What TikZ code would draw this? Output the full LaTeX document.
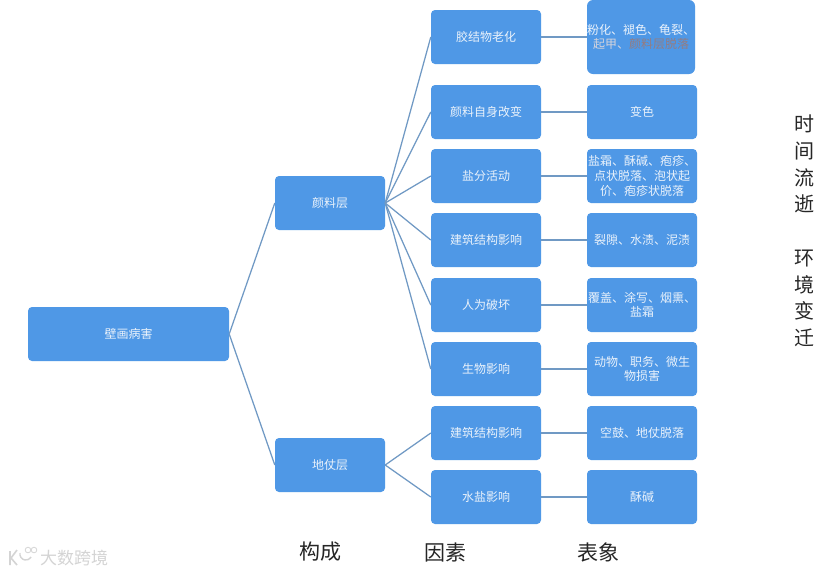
\documentclass[tikz,border=0pt]{standalone}
\usepackage{fontspec}
\setmainfont{Noto Sans CJK SC}[Scale=1]
\definecolor{boxblue}{HTML}{4F98E6}
\definecolor{linkblue}{HTML}{7099C4}
\definecolor{boxtext}{HTML}{EAF2FB}
\definecolor{faded}{HTML}{957C80}
\definecolor{markgrey}{HTML}{D4D4D4}
\tikzset{
  x=1pt,y=-1pt,
  blockbox/.style={draw=none,fill=boxblue,rounded corners=4pt,minimum height=54pt,minimum width=110pt,inner sep=0pt,align=center,text=boxtext,font=\fontsize{12}{14.6}\selectfont},
  link/.style={draw=linkblue,line width=1.25pt},
  caption/.style={inner sep=0pt,text=black!85,font=\fontsize{21}{24}\selectfont},
}
\begin{document}
\begin{tikzpicture}
\useasboundingbox (0,0) rectangle (830,574);
\fill[white] (0,0) rectangle (830,574);
\node[blockbox,minimum width=201pt] (root) at (128.5,334) {壁画病害};
\node[blockbox] (pig) at (330,203) {颜料层};
\node[blockbox] (gro) at (330,465) {地仗层};
\node[blockbox] (f1) at (486,37) {胶结物老化};
\node[blockbox] (f2) at (486,112) {颜料自身改变};
\node[blockbox] (f3) at (486,176) {盐分活动};
\node[blockbox] (f4) at (486,240) {建筑结构影响};
\node[blockbox] (f5) at (486,305) {人为破坏};
\node[blockbox] (f6) at (486,369) {生物影响};
\node[blockbox] (f7) at (486,433) {建筑结构影响};
\node[blockbox] (f8) at (486,497) {水盐影响};
\node[blockbox,minimum width=108pt,minimum height=74pt,rounded corners=6pt] (r1) at (641,37) {\shortstack{粉化、褪色、龟裂、\\\textcolor{boxtext!75!faded}{起甲、}\textcolor{faded}{颜料层脱落}}};
\node[blockbox] (r2) at (642,112) {变色};
\node[blockbox] (r3) at (642,176) {盐霜、酥碱、疱疹、\\点状脱落、泡状起\\价、疱疹状脱落};
\node[blockbox] (r4) at (642,240) {裂隙、水渍、泥渍};
\node[blockbox] (r5) at (642,305) {覆盖、涂写、烟熏、\\盐霜};
\node[blockbox] (r6) at (642,369) {动物、职务、微生\\物损害};
\node[blockbox] (r7) at (642,433) {空鼓、地仗脱落};
\node[blockbox] (r8) at (642,497) {酥碱};
\draw[link] (root.east) -- (pig.west);
\draw[link] (root.east) -- (gro.west);
\foreach \n in {1,...,6} {\draw[link] (pig.east) -- (f\n.west);}
\foreach \n in {7,8} {\draw[link] (gro.east) -- (f\n.west);}
\foreach \n in {1,...,8} {\draw[link] (f\n.east) -- (r\n.west);}
\node[caption] (c1) at (320,552) {构成};
\node[caption] (c2) at (445,552) {因素};
\node[caption] (c3) at (598,552) {表象};
\node[inner sep=0pt,align=center,text=black!85,font=\fontsize{20}{26.75}\selectfont] (side) at (804,231) {时\\间\\流\\逝\\[26.75pt]环\\境\\变\\迁};
\node[inner sep=0pt,text=markgrey,font=\fontsize{17}{20}\selectfont] (mark) at (74,558) {大数跨境};
\draw[markgrey,line width=1.6pt] (10,551) -- (10,565) (17,550) -- (11,558) -- (17,565);
\draw[markgrey,line width=1.4pt] (20,553) arc[start angle=170,end angle=330,radius=6pt];
\draw[markgrey,line width=.8pt] (28,550) circle[radius=2.8pt] (34,550) circle[radius=2.8pt];
\end{tikzpicture}
\end{document}
